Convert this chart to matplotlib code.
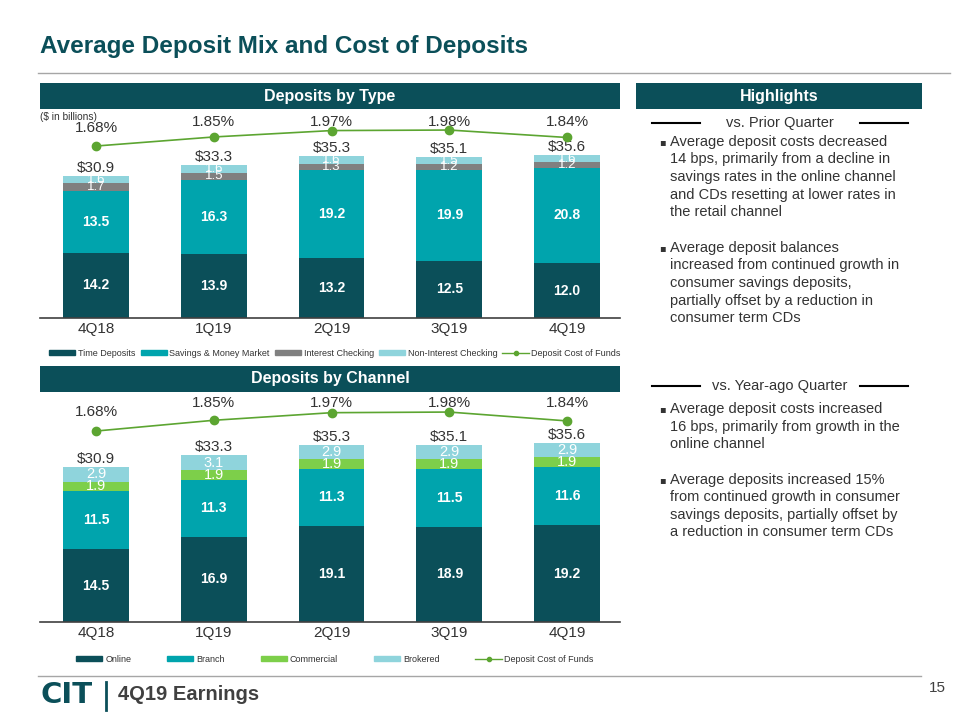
import numpy as np
import matplotlib
matplotlib.use('Agg')
import matplotlib.pyplot as plt
from matplotlib.lines import Line2D
from matplotlib.patches import Rectangle, Patch

plt.rcParams['font.family'] = ['Liberation Sans', 'DejaVu Sans']

# ---- data ($ in billions) ----
quarters = ['4Q18', '1Q19', '2Q19', '3Q19', '4Q19']
totals = [30.9, 33.3, 35.3, 35.1, 35.6]
cost_of_funds = [1.68, 1.85, 1.97, 1.98, 1.84]

# deposits by type
time_deposits = [14.2, 13.9, 13.2, 12.5, 12.0]
savings_mm = [13.5, 16.3, 19.2, 19.9, 20.8]
interest_checking = [1.7, 1.5, 1.3, 1.2, 1.2]
non_interest_checking = [1.6, 1.6, 1.6, 1.5, 1.6]
type_names = ['Time Deposits', 'Savings & Money Market', 'Interest Checking', 'Non-Interest Checking']

# deposits by channel
online = [14.5, 16.9, 19.1, 18.9, 19.2]
branch = [11.5, 11.3, 11.3, 11.5, 11.6]
commercial = [1.9, 1.9, 1.9, 1.9, 1.9]
brokered = [2.9, 3.1, 2.9, 2.9, 2.9]
channel_names = ['Online', 'Branch', 'Commercial', 'Brokered']

# ---- styling ----
W, H = 960, 720
DARK = '#0b4f59'
TEAL = '#00a4ad'
GRAY = '#808080'
LIGHT = '#8fd4dc'
GREEN_LINE = '#5ca531'
GREEN = '#7dcf4a'
TXT = '#333333'
NARROW = ['Liberation Sans Narrow', 'Liberation Sans']

fig = plt.figure(figsize=(W / 100, H / 100), dpi=100)


def px_rect(x0, y0, x1, y1):
    return [x0 / W, 1 - y1 / H, (x1 - x0) / W, (y1 - y0) / H]


def fx(x):
    return x / W


def fy(y):
    return 1 - y / H


def hline(x0, x1, y, color, lw=1.0):
    fig.add_artist(Line2D([fx(x0), fx(x1)], [fy(y), fy(y)], transform=fig.transFigure,
                          color=color, lw=lw))


def header(x0, x1, y0, y1, text):
    fig.add_artist(Rectangle((fx(x0), fy(y1)), (x1 - x0) / W, (y1 - y0) / H,
                             transform=fig.transFigure, color=DARK, lw=0))
    fig.text(fx((x0 + x1) / 2), fy((y0 + y1) / 2), text, color='white', fontsize=11.5,
             fontweight='bold', ha='center', va='center')


def draw_chart(rect, segments, colors, names, ytop, line_lim, off, cap, legend_y, colspace,
               small_fs):
    ax = fig.add_axes(rect)
    x = np.arange(len(quarters))
    bottom = np.zeros(len(quarters))
    for vals, col in zip(segments, colors):
        vals = np.array(vals)
        ax.bar(x, vals, 0.56, bottom=bottom, color=col, lw=0)
        for xi, b, v in zip(x, bottom, vals):
            if v >= 5:
                ax.text(xi, b + v / 2, f'{v:.1f}', ha='center', va='center', color='white',
                        fontsize=10, fontweight='bold')
            else:
                ax.text(xi, b + v / 2, f'{v:.1f}', ha='center', va='center', color='white',
                        fontsize=small_fs, family=NARROW)
        bottom += vals
    for xi, b, t in zip(x, bottom, totals):
        ax.text(xi, b + 0.25, f'${t:.1f}', ha='center', va='bottom', color=TXT,
                fontsize=11, family=NARROW)
    ax.axhline(0, color='#404040', lw=1.2, clip_on=False)
    ax.set_xlim(-0.476, 4.45)
    ax.set_ylim(0, ytop)
    ax.set_xticks(x)
    ax.set_xticklabels(quarters, family=NARROW, fontsize=11, color=TXT)
    ax.tick_params(axis='x', length=0, pad=3)
    ax.set_yticks([])
    for s in ax.spines.values():
        s.set_visible(False)

    ax2 = ax.twinx()
    ax2.plot(x, cost_of_funds, color=GREEN_LINE, lw=1.2, marker='o', ms=6)
    ax2.set_ylim(line_lim)
    for xi, c in zip(x, cost_of_funds):
        ax2.text(xi, min(c + off, cap), f'{c:.2f}%', ha='center', va='center', color=TXT,
                 fontsize=11, family=NARROW)
    ax2.axis('off')

    handles = [Patch(color=c) for c in colors]
    handles.append(Line2D([], [], color=GREEN_LINE, lw=1, marker='o', ms=3))
    fig.legend(handles, names + ['Deposit Cost of Funds'], loc='center',
               bbox_to_anchor=(fx(335), fy(legend_y)), ncol=5, frameon=False,
               fontsize=6.5, handlelength=2.9, handleheight=0.55, handletextpad=0.3,
               columnspacing=colspace, labelcolor=TXT)
    return ax


# ---- title ----
fig.text(fx(40), fy(47), 'Average Deposit Mix and Cost of Deposits', color=DARK,
         fontsize=17.5, fontweight='bold', ha='left', va='center')
hline(38, 950, 73, '#a6a6a6')

# ---- deposits by type ----
header(40, 620, 83, 109, 'Deposits by Type')
fig.text(fx(40), fy(117), '($ in billions)', fontsize=7.3, color=TXT, ha='left', va='center')
draw_chart(px_rect(40, 115, 620, 318),
           [time_deposits, savings_mm, interest_checking, non_interest_checking],
           [DARK, TEAL, GRAY, LIGHT], type_names,
           44.3, (-1.546, 2.262), 0.34, 2.131, 353, 0.55, 9.5)

# ---- deposits by channel ----
header(40, 620, 366, 392, 'Deposits by Channel')
draw_chart(px_rect(40, 398, 620, 622),
           [online, branch, commercial, brokered],
           [DARK, TEAL, GREEN, LIGHT], channel_names,
           44.5, (-1.337, 2.202), 0.30, 2.123, 659, 4.0, 10.5)

# ---- highlights ----
header(636, 922, 83, 109, 'Highlights')


def section(y, title):
    fig.text(fx(780), fy(y), title, fontsize=10.5, color=TXT, ha='center', va='center')
    hline(652, 700, y, '#000000', 1.5)
    hline(860, 908, y, '#000000', 1.5)


def bullet(y0, lines):
    fig.text(fx(662), fy(y0), '▪', fontsize=7, color=TXT, ha='center', va='center',
             family=['DejaVu Sans'])
    for i, ln in enumerate(lines):
        fig.text(fx(670), fy(y0 + i * 17.5), ln, fontsize=10.5, color=TXT,
                 ha='left', va='center')


section(123, 'vs. Prior Quarter')
bullet(142, ['Average deposit costs decreased',
             '14 bps, primarily from a decline in',
             'savings rates in the online channel',
             'and CDs resetting at lower rates in',
             'the retail channel'])
bullet(248, ['Average deposit balances',
             'increased from continued growth in',
             'consumer savings deposits,',
             'partially offset by a reduction in',
             'consumer term CDs'])

section(386, 'vs. Year-ago Quarter')
bullet(409, ['Average deposit costs increased',
             '16 bps, primarily from growth in the',
             'online channel'])
bullet(480, ['Average deposits increased 15%',
             'from continued growth in consumer',
             'savings deposits, partially offset by',
             'a reduction in consumer term CDs'])

# ---- footer ----
hline(38, 921, 676, '#a6a6a6')
fig.text(fx(40), fy(695), 'CIT', fontsize=21, fontweight='heavy', color=DARK,
         ha='left', va='center', family=['DejaVu Sans'])
fig.add_artist(Line2D([fx(106), fx(106)], [fy(682), fy(710)], transform=fig.transFigure,
                      color=DARK, lw=2))
fig.text(fx(118), fy(695), '4Q19 Earnings', fontsize=14.5, fontweight='bold', color='#404040',
         ha='left', va='center')
fig.text(fx(937), fy(688), '15', fontsize=11, color='#404040', ha='center', va='center')

fig.savefig('out.png', dpi=100)
